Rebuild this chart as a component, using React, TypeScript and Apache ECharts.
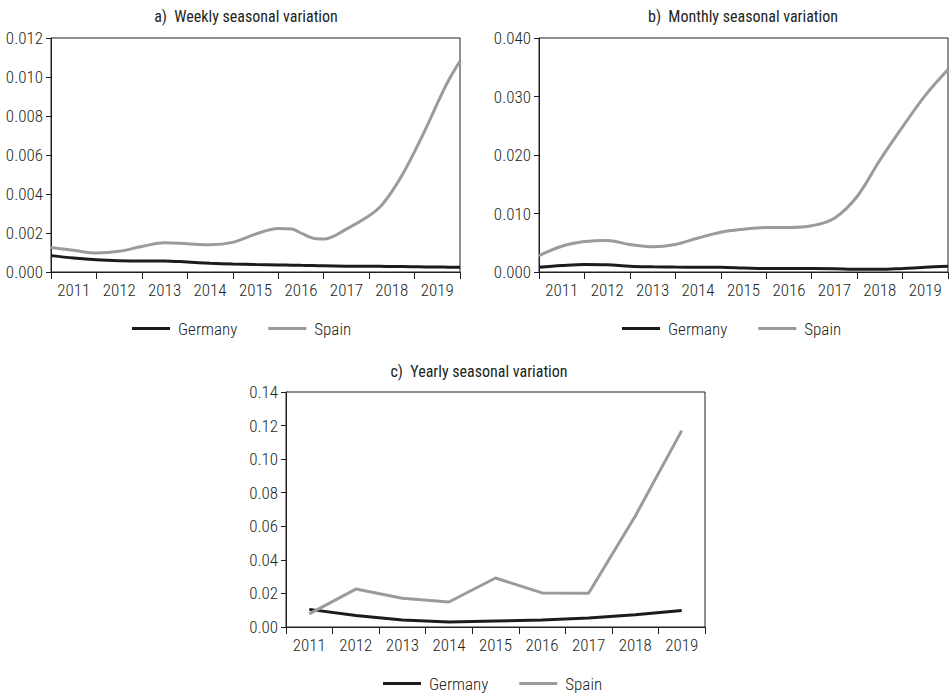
import React, { useEffect, useRef } from "react";
import * as echarts from "echarts";

// Year labels shared by all three panels
const years = ["2011", "2012", "2013", "2014", "2015", "2016", "2017", "2018", "2019"];

// a) Weekly seasonal variation (continuous time axis, 2011.0 – 2020.0)
const weeklyTimes = [2011, 2011.5, 2012, 2012.5, 2013, 2013.5, 2014, 2014.5, 2015, 2015.5, 2016, 2016.3, 2016.5, 2016.75, 2017, 2017.5, 2018, 2018.25, 2018.5, 2018.75, 2019, 2019.25, 2019.5, 2019.75, 2020];
const weeklyGermany = [0.00084, 0.00072, 0.00063, 0.00058, 0.00056, 0.00057, 0.00051, 0.00045, 0.00041, 0.00038, 0.00036, 0.00035, 0.00034, 0.00033, 0.00032, 0.0003, 0.00029, 0.00029, 0.00028, 0.00028, 0.00027, 0.00026, 0.00026, 0.00025, 0.00025];
const weeklySpain = [0.00126, 0.00111, 0.00097, 0.00106, 0.00131, 0.0015, 0.00145, 0.0014, 0.00152, 0.00194, 0.00223, 0.0022, 0.002, 0.00174, 0.00169, 0.0022, 0.00288, 0.00336, 0.00412, 0.00506, 0.00617, 0.00736, 0.00864, 0.00983, 0.01082];

// b) Monthly seasonal variation
const monthlyTimes = [2011, 2011.5, 2012, 2012.5, 2013, 2013.5, 2014, 2014.5, 2015, 2015.5, 2016, 2016.5, 2017, 2017.5, 2018, 2018.5, 2019, 2019.5, 2020];
const monthlyGermany = [0.0008, 0.0011, 0.0013, 0.00125, 0.001, 0.0009, 0.00085, 0.00082, 0.0008, 0.0007, 0.0006, 0.0006, 0.0006, 0.00057, 0.00045, 0.00045, 0.0006, 0.0008, 0.001];
const monthlySpain = [0.0028, 0.0044, 0.0052, 0.0054, 0.0047, 0.0043, 0.0047, 0.0058, 0.0068, 0.0073, 0.0076, 0.0076, 0.0079, 0.0092, 0.0129, 0.0191, 0.0248, 0.0302, 0.0346];

// c) Yearly seasonal variation (one value per year)
const yearlyGermany = [0.0105, 0.0068, 0.0042, 0.003, 0.0036, 0.0042, 0.0054, 0.0073, 0.0099];
const yearlySpain = [0.0078, 0.0226, 0.0171, 0.0149, 0.0292, 0.0203, 0.0201, 0.066, 0.117];

const FONT = "'Roboto Condensed', Roboto, sans-serif";
const WEIGHT = 300;
const INK = "#231f20";
const GERMANY = "#1c1c1c";
const SPAIN = "#9b9b9b";

const pair = (t: number[], v: number[]) => t.map((x, i) => [x, v[i]]);

function panelAxes(gridIndex: number, max: number, interval: number, digits: number) {
  const xCat = {
    type: "category",
    gridIndex,
    data: years,
    boundaryGap: true,
    axisLine: { lineStyle: { color: INK, width: 1 } },
    axisTick: { show: true, length: 7, interval: 0, lineStyle: { color: INK } },
    axisLabel: { color: INK, fontFamily: FONT, fontWeight: WEIGHT, fontSize: 17, margin: 9, interval: 0 },
    splitLine: { show: false },
  };
  const xVal = {
    type: "value",
    gridIndex,
    min: 2011,
    max: 2020,
    show: false,
    splitLine: { show: false },
  };
  const y = {
    type: "value",
    gridIndex,
    min: 0,
    max,
    interval,
    axisLine: { show: true, lineStyle: { color: INK, width: 1 } },
    axisTick: { show: true, length: 5, lineStyle: { color: INK } },
    axisLabel: {
      color: INK,
      fontFamily: FONT,
      fontWeight: WEIGHT,
      fontSize: 17,
      margin: 8,
      formatter: (v: number) => v.toFixed(digits),
    },
    splitLine: { show: false },
  };
  return { xCat, xVal, y };
}

export default function App() {
  const ref = useRef<HTMLDivElement>(null);

  useEffect(() => {
    if (!ref.current) return;
    const chart = echarts.init(ref.current, undefined, { renderer: "svg" });

    const a = panelAxes(0, 0.012, 0.002, 3);
    const b = panelAxes(1, 0.04, 0.01, 3);
    const c = panelAxes(2, 0.14, 0.02, 2);

    const lineStyle = (color: string) => ({ color, width: 3 });

    const legendBase = {
      icon: "rect",
      itemWidth: 38,
      itemHeight: 3,
      itemGap: 31,
      padding: 0,
      textStyle: { color: INK, fontFamily: FONT, fontWeight: WEIGHT, fontSize: 17, padding: [0, 0, 0, 3] },
      data: ["Germany", "Spain"],
      selectedMode: false,
    };

    const titleText = (x: number, y: number, text: string) => ({
      type: "text",
      x,
      y,
      style: {
        text,
        fill: INK,
        fontFamily: FONT,
        fontWeight: 400,
        fontSize: 16,
        textAlign: "center",
        textVerticalAlign: "middle",
      },
    });

    chart.setOption({
      animation: false,
      backgroundColor: "#ffffff",
      grid: [
        { left: 51, top: 38, width: 409, height: 234, show: true, borderColor: INK, borderWidth: 1 },
        { left: 539, top: 38, width: 409, height: 234, show: true, borderColor: INK, borderWidth: 1 },
        { left: 286, top: 392, width: 419, height: 235, show: true, borderColor: INK, borderWidth: 1 },
      ],
      xAxis: [a.xCat, a.xVal, b.xCat, b.xVal, c.xCat],
      yAxis: [a.y, b.y, c.y],
      legend: [
        { ...legendBase, left: 132, top: 320 },
        { ...legendBase, left: 622, top: 320 },
        { ...legendBase, left: 383, top: 675 },
      ],
      graphic: [
        titleText(246, 16, "a)  Weekly seasonal variation"),
        titleText(743, 16, "b)  Monthly seasonal variation"),
        titleText(479, 371, "c)  Yearly seasonal variation"),
      ],
      series: [
        { name: "Germany", type: "line", xAxisIndex: 1, yAxisIndex: 0, data: pair(weeklyTimes, weeklyGermany), smooth: 0.35, showSymbol: false, lineStyle: lineStyle(GERMANY), itemStyle: { color: GERMANY } },
        { name: "Spain", type: "line", xAxisIndex: 1, yAxisIndex: 0, data: pair(weeklyTimes, weeklySpain), smooth: 0.35, showSymbol: false, lineStyle: lineStyle(SPAIN), itemStyle: { color: SPAIN } },
        { name: "Germany", type: "line", xAxisIndex: 3, yAxisIndex: 1, data: pair(monthlyTimes, monthlyGermany), smooth: 0.35, showSymbol: false, lineStyle: lineStyle(GERMANY), itemStyle: { color: GERMANY } },
        { name: "Spain", type: "line", xAxisIndex: 3, yAxisIndex: 1, data: pair(monthlyTimes, monthlySpain), smooth: 0.35, showSymbol: false, lineStyle: lineStyle(SPAIN), itemStyle: { color: SPAIN } },
        { name: "Germany", type: "line", xAxisIndex: 4, yAxisIndex: 2, data: yearlyGermany, showSymbol: false, lineStyle: lineStyle(GERMANY), itemStyle: { color: GERMANY } },
        { name: "Spain", type: "line", xAxisIndex: 4, yAxisIndex: 2, data: yearlySpain, showSymbol: false, lineStyle: lineStyle(SPAIN), itemStyle: { color: SPAIN } },
      ],
    });

    return () => chart.dispose();
  }, []);

  return (
    <div
      ref={ref}
      style={{ position: "absolute", left: 0, top: 0, width: 949, height: 698, fontStretch: "condensed" }}
    />
  );
}
